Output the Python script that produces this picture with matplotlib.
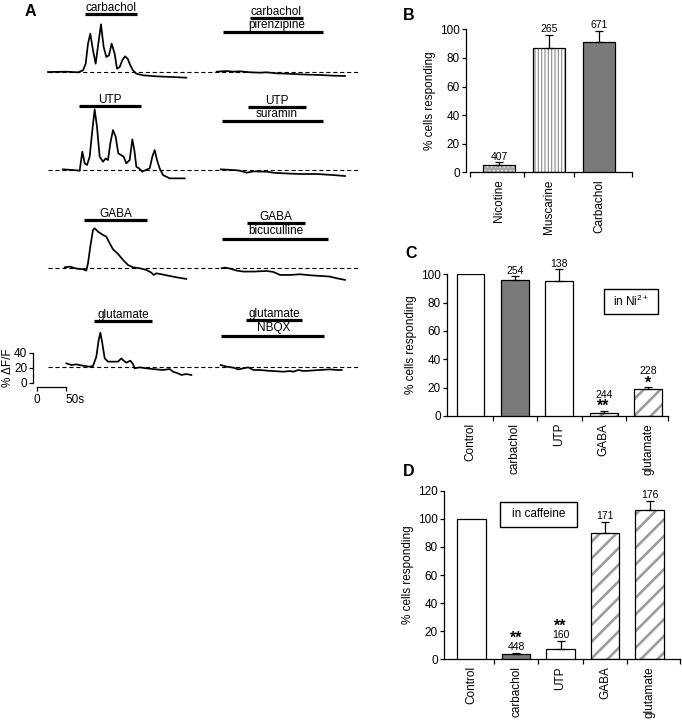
import matplotlib
matplotlib.use('Agg')
import matplotlib.pyplot as plt
import numpy as np
from matplotlib.patches import Rectangle

plt.rcParams['font.family'] = ['Liberation Sans', 'DejaVu Sans']
plt.rcParams['mathtext.fontset'] = 'custom'
plt.rcParams['mathtext.rm'] = 'Liberation Sans'
plt.rcParams['mathtext.it'] = 'Liberation Sans:italic'
plt.rcParams['mathtext.bf'] = 'Liberation Sans:bold'
plt.rcParams['lines.scale_dashes'] = False

# ---------------- data: panel A traces (time s, %dF/F) ----------------
carb_t = [0, 31.6, 51.8, 60.4, 65.0, 69.0, 73.0, 77.6, 82.2, 86.8, 91.4, 96.0, 100.6, 105.2,
          109.8, 115.0, 119.0, 123.6, 128.2, 132.8, 137.4, 142.0, 146.6, 152.4, 163.9, 186.9, 215.6, 238.6]
carb_v = [0, 0.4, -0.4, 2.2, 11.1, 37.8, 51.1, 28.9, 11.1, 37.8, 63.6, 33.3, 20.0, 22.2,
          37.8, 24.4, 4.4, 6.7, 15.6, 20.9, 17.8, 8.9, 2.2, -2.2, -4.4, -5.8, -6.7, -7.6]

piren_t = [0, 17.3, 28.8, 40.3, 57.5, 74.8, 86.3, 103.5, 120.8, 143.8, 161.0, 178.3, 201.3, 221.4]
piren_v = [0.4, 1.3, 0.4, 0.9, -0.4, -0.9, -0.4, -1.8, -2.2, -3.1, -3.6, -4.0, -4.9, -5.3]

utp_t = [25.9, 43.1, 54.6, 59.2, 63.3, 67.3, 71.9, 76.5, 80.5, 84.5, 89.1, 94.9, 99.5, 103.5,
         107.5, 112.1, 116.7, 121.3, 125.9, 130.5, 135.1, 140.9, 145.5, 148.9, 152.4, 157.0,
         162.7, 168.5, 175.4, 180.0, 184.0, 188.0, 192.6, 198.4, 209.9, 221.4, 235.8]
utp_v = [0.9, 0, -0.9, 24.4, 8.9, 6.7, 17.8, 53.3, 80.8, 57.7, 17.8, 11.1, 15.5, 13.3,
         35.5, 53.3, 44.4, 22.2, 20.0, 17.8, 8.9, 13.3, 40.8, 26.6, 4.4, 2.2,
         -2.2, 0, 2.2, 17.8, 26.6, 13.3, 2.2, -6.7, -11.1, -11.1, -11.1]

sura_t = [6.9, 28.8, 40.3, 51.8, 63.3, 86.3, 97.8, 115.0, 143.8, 172.5, 201.3, 221.4]
sura_v = [0.9, 0, -0.9, -3.6, -1.8, -2.2, -3.6, -4.4, -5.3, -5.3, -6.7, -8.0]

gaba_t = [28.8, 37.4, 48.9, 60.4, 66.1, 69.0, 73.0, 77.6, 80.5, 86.3, 94.9, 100.6, 106.4, 112.1,
          120.8, 129.4, 138.0, 146.6, 158.1, 169.6, 178.3, 182.3, 186.9, 198.4, 209.9, 221.4, 238.6]
gaba_v = [1.3, 2.2, -0.4, -1.3, -3.1, 6.7, 28.9, 51.1, 53.3, 48.8, 44.4, 42.2, 33.3, 25.3,
          19.1, 11.1, 4.4, 1.3, 0, -2.2, -5.8, -8.9, -6.7, -8.4, -10.2, -12.0, -14.2]

bicu_t = [8.6, 14.4, 23.0, 34.5, 46.0, 63.3, 86.3, 97.8, 109.3, 126.5, 143.8, 161.0, 178.3, 195.5, 207.0, 221.4]
bicu_v = [0, 0.9, -0.4, -3.1, -4.4, -4.4, -3.6, -4.9, -8.9, -8.9, -8.0, -9.3, -10.2, -11.1, -13.3, -15.5]

glut_t = [31.6, 40.3, 48.9, 60.4, 71.9, 77.6, 83.4, 87.4, 90.3, 93.7, 97.8, 103.5, 112.1, 120.8,
          126.5, 130.5, 135.1, 142.0, 146.6, 149.5, 158.1, 169.6, 186.9, 198.4, 209.9, 215.6,
          224.3, 230.0, 238.6, 247.3]
glut_v = [4.4, 2.2, 3.1, 1.3, 0, 0.9, 13.3, 35.5, 45.3, 31.1, 11.1, 6.7, 6.7, 6.7,
          11.1, 8.0, 5.3, 8.0, 3.6, -2.2, -0.9, -2.2, -3.6, -4.4, -3.1, -6.7,
          -8.9, -11.1, -9.8, -11.1]

nbqx_t = [6.9, 17.3, 28.8, 37.4, 46.0, 54.6, 63.3, 74.8, 86.3, 97.8, 115.0, 126.5, 132.3, 140.9,
          149.5, 161.0, 178.3, 195.5, 207.0, 215.6]
nbqx_v = [2.2, 0, -1.3, -3.6, -2.2, -0.9, -4.4, -4.4, -5.3, -5.8, -6.7, -5.8, -6.7, -4.4,
          -5.8, -5.3, -4.4, -3.6, -4.4, -4.4]

left_labels = ['carbachol', 'UTP', 'GABA', 'glutamate']
right_top_labels = ['carbachol', 'UTP', 'GABA', 'glutamate']
right_bottom_labels = ['pirenzipine', 'suramin', 'bicuculline', 'NBQX']
# application bars (start s, end s, level %)
left_bar_start = [63.8, 53.5, 62.1, 79.4]
left_bar_end = [153.5, 160.4, 170.8, 179.4]
left_bar_level = [77.3, 85.3, 64.8, 61.3]
rs_start = [57.4, 54.0, 52.3, 50.5]
rs_end = [148.9, 154.0, 152.3, 147.1]
rs_level = [72.0, 84.0, 60.4, 61.9]
rl_start = [10.9, 9.1, 9.1, 7.4]
rl_end = [183.4, 183.4, 192.0, 185.1]
rl_level = [53.3, 65.3, 39.5, 41.3]

# ---------------- data: panel B ----------------
b_cats = ['Nicotine', 'Muscarine', 'Carbachol']
b_vals = [5, 87, 91]
b_err = [2, 9, 8]
b_n = ['407', '265', '671']

# ---------------- data: panel C ----------------
c_cats = ['Control', 'carbachol', 'UTP', 'GABA', 'glutamate']
c_vals = [100, 96, 95, 2, 19]
c_err = [0, 3, 9, 1.5, 1.2]
c_n = ['', '254', '138', '244', '228']
c_sig = ['', '', '', '**', '*']

# ---------------- data: panel D ----------------
d_cats = ['Control', 'carbachol', 'UTP', 'GABA', 'glutamate']
d_vals = [100, 4, 7, 90, 106]
d_err = [0, 0.4, 6, 8, 7]
d_n = ['', '448', '160', '171', '176']
d_sig = ['', '**', '**', '', '']

FS = 8.5
W, H = 682, 720
fig = plt.figure(figsize=(W / 100, H / 100), dpi=100)


def px_axes(x0, y0, x1, y1):
    return fig.add_axes([x0 / W, 1 - y1 / H, (x1 - x0) / W, (y1 - y0) / H])


# ================= Panel A =================
axA = px_axes(0, 0, 360, 420)
axA.set_xlim(-82.8, 538.2)
axA.set_ylim(-464, 96)
axA.axis('off')
ROW_OFF = [0, -130.7, -261.7, -392.9]
RIGHT_T0 = 291.0
left_tr = [(carb_t, carb_v), (utp_t, utp_v), (gaba_t, gaba_v), (glut_t, glut_v)]
right_tr = [(piren_t, piren_v), (sura_t, sura_v), (bicu_t, bicu_v), (nbqx_t, nbqx_v)]
TR_LW = 1.25
BAR_LW = 2.3
for i in range(4):
    off = ROW_OFF[i]
    axA.hlines(off, 0, 538.2, colors='k', lw=0.8, linestyles=(0, (3, 2)))
    lt, lv = left_tr[i]
    axA.plot(lt, np.array(lv) + off, color='k', lw=TR_LW, solid_joinstyle='round')
    rt, rv = right_tr[i]
    axA.plot(np.array(rt) + RIGHT_T0, np.array(rv) + off, color='k', lw=TR_LW, solid_joinstyle='round')
    # left bar + label
    y = off + left_bar_level[i]
    axA.hlines(y, left_bar_start[i], left_bar_end[i], colors='k', lw=BAR_LW)
    axA.annotate(left_labels[i], xy=((left_bar_start[i] + left_bar_end[i]) / 2, y),
                 xytext=(0, 2.2), textcoords='offset points', ha='center', va='baseline', fontsize=FS)
    # right bars
    ys = off + rs_level[i]
    yl = off + rl_level[i]
    axA.hlines(ys, rs_start[i] + RIGHT_T0, rs_end[i] + RIGHT_T0, colors='k', lw=BAR_LW)
    axA.hlines(yl, rl_start[i] + RIGHT_T0, rl_end[i] + RIGHT_T0, colors='k', lw=BAR_LW)
    axA.annotate(right_top_labels[i], xy=((rs_start[i] + rs_end[i]) / 2 + RIGHT_T0, ys),
                 xytext=(0, 2.2), textcoords='offset points', ha='center', va='baseline', fontsize=FS)
    axA.text((rs_start[i] + rs_end[i]) / 2 + RIGHT_T0, (ys + yl) / 2, right_bottom_labels[i],
             ha='center', va='center', fontsize=FS)

# scale bars
SCALE_V = 40
SCALE_T = 50
off4 = ROW_OFF[3]
axSv = axA.inset_axes([-25.9, off4 - 21.7, 0.01, SCALE_V], transform=axA.transData)
axSv.set_ylim(0, SCALE_V)
axSv.set_yticks([0, 20, 40])
axSv.set_xticks([])
for s in ['top', 'right', 'bottom']:
    axSv.spines[s].set_visible(False)
axSv.spines['left'].set_linewidth(0.9)
axSv.tick_params(axis='y', length=3, width=0.9, labelsize=FS, pad=1)
axSv.set_ylabel('% ΔF/F', fontsize=FS, labelpad=0.3)
axSv.patch.set_visible(False)

axSh = axA.inset_axes([-19, off4 - 27, SCALE_T, 0.01], transform=axA.transData)
axSh.set_xlim(0, SCALE_T)
axSh.set_xticks([0, 50])
axSh.set_xticklabels(['0', '50s'])
axSh.set_yticks([])
for s in ['top', 'right', 'left']:
    axSh.spines[s].set_visible(False)
axSh.spines['bottom'].set_linewidth(0.9)
axSh.tick_params(axis='x', length=3, width=0.9, labelsize=FS, pad=2)
axSh.get_xticklabels()[1].set_horizontalalignment('left')
axSh.get_xticklabels()[1].set_x(46)
axSh.patch.set_visible(False)


# ================= bar helpers =================
def style_bar_axes(ax, cats, ymax, ystep, xbounds):
    ax.set_ylim(0, ymax)
    ax.set_yticks(np.arange(0, ymax + 1, ystep))
    for s in ['top', 'right']:
        ax.spines[s].set_visible(False)
    ax.spines['left'].set_linewidth(0.9)
    ax.spines['bottom'].set_linewidth(0.9)
    ax.spines['bottom'].set_bounds(*xbounds)
    n = len(cats)
    ax.set_xticks(np.arange(n))
    ax.set_xticklabels(cats, rotation=90, fontsize=FS, va='top', ha='center')
    ax.tick_params(axis='x', which='major', length=0, pad=5)
    ax.set_xticks(list(np.arange(n - 1) + 0.5) + [xbounds[1]], minor=True)
    ax.tick_params(axis='x', which='minor', length=3.5, width=0.9, direction='out')
    ax.tick_params(axis='y', length=3, width=0.9, labelsize=FS, pad=1.5)
    ax.set_ylabel('% cells responding', fontsize=FS, labelpad=3)
    ax.patch.set_visible(False)


def draw_bar(ax, x, v, width, kind):
    if kind == 'white':
        ax.bar(x, v, width, color='white', edgecolor='k', linewidth=0.9, zorder=3)
        return
    if kind == 'gray':
        ax.bar(x, v, width, color='#7a7a7a', edgecolor='k', linewidth=0.9, zorder=3)
        return
    if kind == 'dots':
        face, hatch, hcol, hlw = '#a8a8a8', '....', '#e6e6e6', 0.8
    elif kind == 'vlines':
        face, hatch, hcol, hlw = 'white', '|||||', '#8a8a8a', 0.8
    else:
        face, hatch, hcol, hlw = 'white', '//', '#9c9c9c', 1.9
    with plt.rc_context({'hatch.linewidth': hlw, 'hatch.color': hcol}):
        b = ax.bar(x, v, width, color=face, edgecolor=hcol, hatch=hatch, linewidth=0, zorder=2)
        for p in b:
            if hasattr(p, 'set_hatch_linewidth'):
                p.set_hatch_linewidth(hlw)
    ax.bar(x, v, width, fill=False, edgecolor='k', linewidth=0.9, zorder=3)


def draw_err(ax, vals, err):
    x = np.arange(len(vals))
    m = np.array(err) > 0
    ax.errorbar(x[m], np.array(vals)[m], yerr=[np.zeros(m.sum()), np.array(err)[m]], fmt='none',
                ecolor='k', elinewidth=0.9, capsize=3, capthick=0.9, zorder=4, clip_on=False)


def ann(ax, x, y, txt, dy, size=7.5, bold=False):
    ax.annotate(txt, xy=(x, y), xytext=(0, dy), textcoords='offset points', ha='center',
                va='baseline', fontsize=size, fontweight='bold' if bold else 'normal',
                annotation_clip=False)


STAR_FS = 11.5

# ================= Panel B =================
axB = px_axes(466, 29.3, 632, 172.3)
axB.set_xlim(-0.66, 2.66)
b_kinds = ['dots', 'vlines', 'gray']
for i in range(3):
    draw_bar(axB, i, b_vals[i], 0.64, b_kinds[i])
draw_err(axB, b_vals, b_err)
style_bar_axes(axB, b_cats, 100, 20, (-0.58, 2.66))
axB.set_xticks([-0.58, 0.5, 1.5, 2.66], minor=True)
for i in range(3):
    ann(axB, i, b_vals[i] + b_err[i], b_n[i], 2)

# ================= Panel C =================
axC = px_axes(447, 274.3, 668, 416)
axC.set_xlim(-0.529, 4.448)
c_kinds = ['white', 'gray', 'white', 'diag', 'diag']
for i in range(5):
    draw_bar(axC, i, c_vals[i], 0.63, c_kinds[i])
draw_err(axC, c_vals, c_err)
style_bar_axes(axC, c_cats, 100, 20, (-0.529, 4.448))
for i in range(5):
    top = c_vals[i] + c_err[i]
    if c_sig[i]:
        ann(axC, i, top, c_sig[i], 0.0, size=STAR_FS, bold=True)
        ann(axC, i, top, c_n[i], 9.5)
    elif c_n[i]:
        ann(axC, i, top, c_n[i], 1.5)
axC.add_patch(Rectangle((3.0, 72), 1.22, 17.6, fill=False, edgecolor='k', lw=1.0, zorder=5))
axC.text(3.61, 80.8, 'in Ni$^{2+}$', ha='center', va='center', fontsize=FS)

# ================= Panel D =================
axD = px_axes(444, 490.7, 680, 659.3)
axD.set_xlim(-0.618, 4.685)
d_kinds = ['white', 'gray', 'white', 'diag', 'diag']
for i in range(5):
    draw_bar(axD, i, d_vals[i], 0.65, d_kinds[i])
draw_err(axD, d_vals, d_err)
style_bar_axes(axD, d_cats, 120, 20, (-0.618, 4.685))
for i in range(5):
    top = d_vals[i] + d_err[i]
    if d_n[i]:
        ann(axD, i, top, d_n[i], 2)
    if d_sig[i]:
        ann(axD, i, top, d_sig[i], 7.2, size=STAR_FS, bold=True)
axD.add_patch(Rectangle((0.64, 94.2), 1.74, 17.8, fill=False, edgecolor='k', lw=1.0, zorder=5))
axD.text(1.51, 103.1, 'in caffeine', ha='center', va='center', fontsize=FS)

# panel letters
for lab, (px, py) in {'A': (30.5, 11), 'B': (409, 15), 'C': (411, 253), 'D': (409, 471)}.items():
    fig.text(px / W, 1 - py / H, lab, fontsize=11.5, fontweight='bold', ha='center', va='center')

fig.savefig('out.png', dpi=100)
